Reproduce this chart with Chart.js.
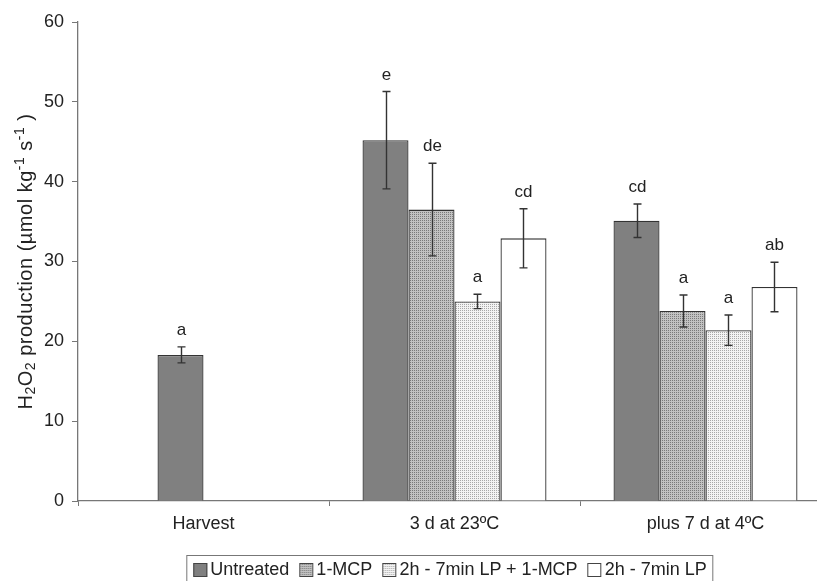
<!DOCTYPE html>
<html>
<head>
<meta charset="utf-8">
<script src="https://cdn.jsdelivr.net/npm/chart.js@4"></script>
<style>
  body { margin: 0; background: #fff; overflow: hidden; }
  #wrap { position: relative; width: 817px; height: 581px; overflow: hidden; }
  #legend {
    position: absolute; left: 450px; top: 555px; transform: translateX(-50%);
    display: flex; align-items: center; white-space: nowrap;
    border: 1px solid #777; padding: 3px 6px 10px 6px;
    font-family: "Liberation Sans", Arial, sans-serif; font-size: 18px; color: #222;
  }
  #legend .item { display: flex; align-items: center; margin-right: 10px; }
  #legend .item:last-child { margin-right: 0; }
  #legend .sw { width: 12px; height: 12px; border: 1px solid #444; margin-right: 3px; }
</style>
</head>
<body>
<div id="wrap">
  <canvas id="chart" width="840" height="581"></canvas>
  <div id="legend"></div>
</div>
<script>
// categories and series
const categories = ['Harvest', '3 d at 23ºC', 'plus 7 d at 4ºC'];
const seriesNames = ['Untreated', '1-MCP', '2h - 7min LP + 1-MCP', '2h - 7min LP'];

// mean values
const untreated = [18.3, 45.2, 35.1];
const mcp = [null, 36.5, 23.8];
const lpMcp = [null, 25.0, 21.4];
const lp = [null, 32.9, 26.8];

// error (+/-)
const untreatedErr = [1.0, 6.1, 2.1];
const mcpErr = [null, 5.8, 2.0];
const lpMcpErr = [null, 0.9, 1.9];
const lpErr = [null, 3.7, 3.1];

// significance letters
const untreatedLetters = ['a', 'e', 'cd'];
const mcpLetters = [null, 'de', 'a'];
const lpMcpLetters = [null, 'a', 'a'];
const lpLetters = [null, 'cd', 'ab'];

const yTicks = [0, 10, 20, 30, 40, 50, 60];

// y axis title pieces (normal / sub / sup)
const yTitle = [
    ['H', 0], ['2', -1], ['O', 0], ['2', -1],
    [' production (µmol kg', 0], ['-1', 1], [' s', 0], ['-1', 1], [' )', 0]
];

const FONT = '"Liberation Sans", Arial, sans-serif';

// dotted fill patterns
function makeTile(bg, dot) {
    const c = document.createElement('canvas');
    c.width = 2; c.height = 2;
    const g = c.getContext('2d');
    g.fillStyle = bg;
    g.fillRect(0, 0, 2, 2);
    g.fillStyle = dot;
    g.fillRect(0, 0, 1, 1);
    return c;
}
const tileMcp = makeTile('#c2c2c2', '#7a7a7a');
const tileLpMcp = makeTile('#f3f3f3', '#a8a8a8');
const ctx = document.getElementById('chart').getContext('2d');
const fills = [
    '#808080',
    ctx.createPattern(tileMcp, 'repeat'),
    ctx.createPattern(tileLpMcp, 'repeat'),
    '#ffffff'
];
const swatchCss = [
    '#808080',
    'url(' + tileMcp.toDataURL() + ')',
    'url(' + tileLpMcp.toDataURL() + ')',
    '#ffffff'
];

const values = [untreated, mcp, lpMcp, lp];
const errors = [untreatedErr, mcpErr, lpMcpErr, lpErr];
const letters = [untreatedLetters, mcpLetters, lpMcpLetters, lpLetters];

// Harvest bar sits one slot to the right in the original figure
const shiftHarvest = {
    id: 'shiftHarvest',
    afterDatasetsUpdate(chart) {
        const el = chart.getDatasetMeta(0).data[0];
        if (el) el.x += el.width;
    }
};

// error bars and letters
const errorBars = {
    id: 'errorBars',
    afterDatasetsDraw(chart) {
        const c = chart.ctx;
        const y = chart.scales.y;
        c.save();
        chart.data.datasets.forEach((ds, i) => {
            const meta = chart.getDatasetMeta(i);
            meta.data.forEach((bar, j) => {
                const v = values[i][j];
                const e = errors[i][j];
                if (v == null) return;
                const top = y.getPixelForValue(v + e);
                const bot = y.getPixelForValue(v - e);
                const x = Math.round(bar.x) + 0.5;
                c.strokeStyle = '#333';
                c.lineWidth = 1.4;
                c.beginPath();
                c.moveTo(x, top); c.lineTo(x, bot);
                c.moveTo(x - 4, top); c.lineTo(x + 4, top);
                c.moveTo(x - 4, bot); c.lineTo(x + 4, bot);
                c.stroke();
                const t = letters[i][j];
                if (t) {
                    c.fillStyle = '#222';
                    c.font = '17px ' + FONT;
                    c.textAlign = 'center';
                    c.textBaseline = 'bottom';
                    c.fillText(t, x, top - 8);
                }
            });
        });
        c.restore();
    }
};

// rotated y title with sub/superscripts
const yTitlePlugin = {
    id: 'yTitle',
    afterDraw(chart) {
        const c = chart.ctx;
        const area = chart.chartArea;
        const big = '20px ' + FONT, small = '14px ' + FONT;
        c.save();
        c.letterSpacing = '0.5px';
        let total = 0;
        yTitle.forEach(([t, k]) => { c.font = k ? small : big; total += c.measureText(t).width; });
        c.translate(26, (area.top + area.bottom) / 2);
        c.rotate(-Math.PI / 2);
        c.fillStyle = '#222';
        c.textBaseline = 'middle';
        c.textAlign = 'left';
        let x = -total / 2;
        yTitle.forEach(([t, k]) => {
            c.font = k ? small : big;
            c.fillText(t, x, k === -1 ? 5 : (k === 1 ? -6 : 0));
            x += c.measureText(t).width;
        });
        c.restore();
    }
};

new Chart(ctx, {
    type: 'bar',
    data: {
        labels: categories,
        datasets: seriesNames.map((name, i) => ({
            label: name,
            data: values[i],
            backgroundColor: fills[i],
            borderColor: '#333',
            borderWidth: 1.3,
            categoryPercentage: 0.733,
            barPercentage: 1.0
        }))
    },
    options: {
        responsive: false,
        animation: false,
        events: [],
        layout: { padding: { top: 22, right: 9, left: 0, bottom: 0 } },
        plugins: {
            legend: { display: false },
            tooltip: { enabled: false }
        },
        scales: {
            x: {
                offset: true,
                grid: { display: true, offset: true, drawOnChartArea: false, tickLength: 5, color: '#777' },
                border: { color: '#777', width: 1.3 },
                ticks: {
                    padding: 7,
                    color: '#222',
                    font: { family: FONT, size: 18 }
                },
                afterFit(scale) { scale.height = 80; }
            },
            y: {
                min: 0,
                max: 60,
                afterBuildTicks(scale) { scale.ticks = yTicks.map(v => ({ value: v })); },
                grid: { display: true, drawOnChartArea: false, tickLength: 6, color: '#777' },
                border: { color: '#777', width: 1.3 },
                ticks: {
                    padding: 8,
                    color: '#222',
                    font: { family: FONT, size: 18 }
                },
                afterFit(scale) { scale.width = 78; }
            }
        }
    },
    plugins: [shiftHarvest, errorBars, yTitlePlugin]
});

// legend
const legend = document.getElementById('legend');
seriesNames.forEach((name, i) => {
    const item = document.createElement('div');
    item.className = 'item';
    const sw = document.createElement('span');
    sw.className = 'sw';
    sw.style.background = swatchCss[i];
    item.appendChild(sw);
    item.appendChild(document.createTextNode(name));
    legend.appendChild(item);
});
</script>
</body>
</html>
